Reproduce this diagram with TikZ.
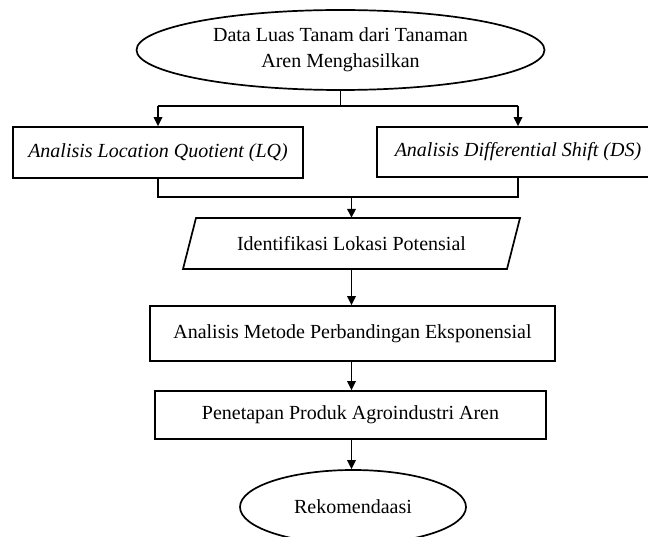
\documentclass[tikz,border=0pt]{standalone}
\usepackage{fontspec}
\setmainfont{Liberation Serif}
\usetikzlibrary{shapes.geometric,arrows.meta}
\begin{document}
\begin{tikzpicture}[x=1pt,y=-1pt,
  txt/.style={font=\fontsize{20}{26}\selectfont},
  box/.style={draw,line width=1.7pt,inner sep=0pt,txt},
  ell/.style={draw,ellipse,line width=1.7pt,inner sep=0pt,txt,align=center},
  conn/.style={line width=1.7pt},
  arr/.style={line width=1.7pt,-{Triangle[length=9pt,width=8.5pt]}}]
\useasboundingbox (0,0) rectangle (648,537);
\clip (0,0) rectangle (648,537);
% nodes
\node[ell,minimum width=408pt,minimum height=80pt] (top) at (340.5,50) {Data Luas Tanam dari Tanaman\\Aren Menghasilkan};
\node[box,minimum width=290pt,minimum height=51pt] (lq) at (158,152.5) {\itshape Analisis Location Quotient (LQ)};
\node[box,minimum width=282pt,minimum height=50pt] (ds) at (518,152) {\itshape Analisis Differential Shift (DS)};
\node[txt,inner sep=0pt,minimum width=324pt,minimum height=51pt] (ident) at (351.5,243.5) {Identifikasi Lokasi Potensial};
\draw[conn,line join=miter] (196,218) -- (520,218) -- (507,269) -- (183,269) -- cycle;
\node[box,minimum width=405pt,minimum height=55pt] (metode) at (352.5,333.5) {Analisis Metode Perbandingan Eksponensial};
\node[box,minimum width=391pt,minimum height=48pt] (tetap) at (350.5,415) {Penetapan Produk Agroindustri Aren};
\node[ell,minimum width=226pt,minimum height=74pt] (rek) at (353,507) {Rekomendaasi};
% split coordinates
\coordinate (s0) at (340.5,106);
\coordinate (sl) at (158,106);
\coordinate (sr) at (518,106);
\coordinate (ml) at (158,197);
\coordinate (mr) at (518,197);
\coordinate (mm) at (351.5,197);
% connectors
\draw[conn] (top.south) -- (s0);
\draw[conn] (sl) -- (sr);
\draw[arr] (sl) -- (lq.north);
\draw[arr] (sr) -- (ds.north);
\draw[conn] (lq.south) -- (ml) -- (mr) -- (ds.south);
\draw[arr] (mm) -- (ident.north);
\draw[arr] (ident.south) -- (ident.south |- metode.north);
\draw[arr] (metode.south -| ident.south) -- (ident.south |- tetap.north);
\draw[arr] (tetap.south -| ident.south) -- (ident.south |- rek.north);
\end{tikzpicture}
\end{document}
